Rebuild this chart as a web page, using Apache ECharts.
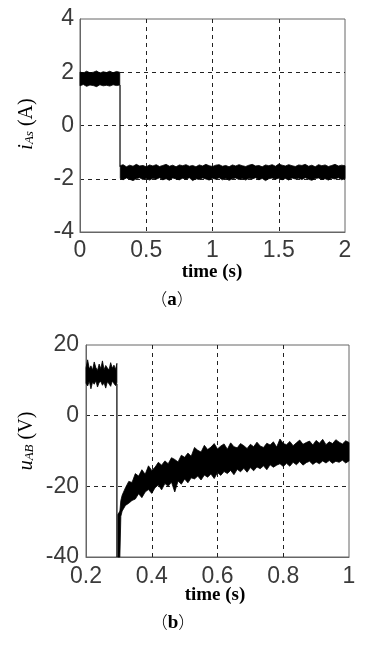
<!DOCTYPE html>
<html><head><meta charset="utf-8">
<script src="https://cdn.jsdelivr.net/npm/echarts@6/dist/echarts.min.js"></script>
<style>html,body{margin:0;padding:0;background:#fff}#c{width:365px;height:645px}</style>
</head><body><div id="c"></div>
<script>
// Panel (a): i_As (A) vs time (s)
var xTicksA = [0, 0.5, 1, 1.5, 2];
var yTicksA = [-4, -2, 0, 2, 4];
var tA1 = [0,0.025,0.05,0.075,0.1,0.125,0.15,0.175,0.2,0.225,0.25,0.275,0.3];
var hiA1 = [2.01,1.97,2.04,1.98,2.0,2.05,1.97,2.02,1.99,2.04,1.98,2.03,2.0];
var loA1 = [1.49,1.54,1.47,1.52,1.5,1.46,1.53,1.49,1.51,1.48,1.53,1.5,1.52];
var tA2 = [0.304,0.325,0.35,0.375,0.4,0.425,0.45,0.475,0.5,0.525,0.55,0.575,0.6,0.625,0.65,0.675,0.7,0.725,0.75,0.775,0.8,0.825,0.85,0.875,0.9,0.925,0.95,0.975,1.0,1.025,1.05,1.075,1.1,1.125,1.15,1.175,1.2,1.225,1.25,1.275,1.3,1.325,1.35,1.375,1.4,1.425,1.45,1.475,1.5,1.525,1.55,1.575,1.6,1.625,1.65,1.675,1.7,1.725,1.75,1.775,1.8,1.825,1.85,1.875,1.9,1.925,1.95,1.975,2.0];
var hiA2 = [-1.51,-1.47,-1.55,-1.49,-1.53,-1.46,-1.52,-1.50,-1.55,-1.48,
  -1.52,-1.47,-1.54,-1.50,-1.46,-1.53,-1.49,-1.55,-1.48,-1.51,
  -1.47,-1.53,-1.50,-1.55,-1.48,-1.52,-1.46,-1.51,-1.54,-1.49,
  -1.47,-1.53,-1.50,-1.55,-1.48,-1.52,-1.47,-1.51,-1.54,-1.49,
  -1.46,-1.52,-1.50,-1.55,-1.48,-1.51,-1.47,-1.53,-1.45,-1.49,
  -1.52,-1.47,-1.51,-1.54,-1.48,-1.50,-1.46,-1.53,-1.49,-1.55,
  -1.47,-1.51,-1.48,-1.54,-1.50,-1.46,-1.52,-1.49,-1.51];
var loA2 = [-1.99,-2.04,-1.97,-2.02,-2.07,-2.00,-1.96,-2.03,-1.99,-2.05,
  -1.98,-2.02,-1.96,-2.04,-2.00,-2.06,-1.97,-2.01,-2.04,-1.98,
  -2.02,-1.96,-2.07,-2.00,-2.03,-1.97,-2.01,-2.05,-1.98,-2.02,
  -1.96,-2.04,-1.99,-2.06,-2.00,-1.97,-2.03,-1.99,-2.05,-1.98,
  -2.01,-1.96,-2.04,-1.99,-2.07,-2.00,-1.97,-2.02,-1.98,-2.04,
  -1.99,-2.05,-1.97,-2.01,-1.98,-2.03,-1.96,-2.02,-2.06,-1.99,
  -1.97,-2.03,-2.00,-2.05,-1.98,-2.01,-1.96,-2.04,-2.00];
var stepA = [[0.302, 1.52], [0.302, -1.55]];

// Panel (b): u_AB (V) vs time (s)
var xTicksB = [0.2, 0.4, 0.6, 0.8, 1];
var yTicksB = [-40, -20, 0, 20];
var tB1 = [0.2,0.205,0.21,0.215,0.22,0.225,0.23,0.235,0.24,0.245,0.25,0.255,0.26,0.265,0.27,0.275,0.28,0.285,0.29,0.294];
var hiB1 = [13.5,15.8,13.2,14.1,12.9,15.2,13.6,12.8,14.6,13.3,15.5,13.0,14.2,13.5,12.9,15.0,13.4,14.3,13.1,14.8];
var loB1 = [9.2,8.4,9.8,7.6,9.5,8.9,9.9,8.1,9.4,9.7,8.6,9.3,7.8,9.6,9.0,8.3,9.8,9.1,8.5,9.4];
var tB2 = [0.297,0.303,0.306,0.31,0.32,0.33,0.34,0.35,0.36,0.37,0.38,0.39,0.40,0.41,0.42,0.43,0.44,0.45,0.46,0.47,0.48,0.49,0.50,0.51,0.52,0.53,0.54,0.55,0.56,0.57,0.58,0.59,0.60,0.61,0.62,0.63,0.64,0.65,0.66,0.67,0.68,0.69,0.70,0.71,0.72,0.73,0.74,0.75,0.76,0.77,0.78,0.79,0.80,0.81,0.82,0.83,0.84,0.85,0.86,0.87,0.88,0.89,0.90,0.91,0.92,0.93,0.94,0.95,0.96,0.97,0.98,0.99,1.00];
var hiB2 = [-28,-27,-24,
  -22.5,-20.4,-18.6,-18.9,-16.4,-17.1,-15.3,-16.6,-14.2,-15.5,
  -14.6,-13.2,-14.0,-12.8,-13.6,-11.9,-12.4,-13.1,-11.2,-11.8,
  -10.6,-11.5,-9.0,-9.8,-10.3,-8.4,-9.6,-8.9,-7.9,-9.4,
  -8.6,-8.0,-9.5,-7.7,-8.8,-9.1,-7.9,-8.5,-9.3,-8.1,
  -8.8,-7.5,-8.6,-9.0,-7.8,-8.3,-7.4,-8.9,-6.6,-7.9,
  -8.2,-7.3,-8.5,-7.7,-6.9,-8.1,-7.6,-7.2,-8.3,-7.0,
  -7.8,-6.7,-8.2,-7.4,-7.9,-6.8,-7.5,-8.0,-7.1,-7.6];
var loB2 = [-40,-40,-28.5,
  -27.0,-25.4,-24.8,-24.0,-23.6,-22.1,-23.2,-21.6,-20.9,-22.0,
  -20.4,-19.6,-21.0,-19.2,-20.0,-18.8,-21.6,-18.5,-19.4,-17.9,
  -19.0,-17.6,-17.9,-17.1,-18.2,-16.8,-17.4,-16.5,-17.8,-16.1,
  -16.9,-15.8,-16.4,-15.5,-16.7,-15.2,-15.9,-14.9,-16.0,-14.7,
  -15.6,-14.5,-15.0,-14.2,-15.3,-13.9,-14.6,-14.0,-13.6,-14.4,
  -13.5,-14.3,-13.2,-13.9,-13.0,-14.0,-13.3,-12.9,-13.8,-13.1,
  -13.6,-12.8,-13.4,-12.7,-13.5,-12.9,-13.2,-12.6,-13.4,-12.8];
var stepB = [[0.294, 9.0], [0.294, -40]];

function band(t, hi, lo) {
  return function (params, api) {
    if (params.dataIndex !== 0) return null;
    var n = Math.min(t.length, hi.length, lo.length);
    var pts = [];
    for (var i = 0; i < n; i++) pts.push(api.coord([t[i], hi[i]]));
    for (var j = n - 1; j >= 0; j--) pts.push(api.coord([t[j], lo[j]]));
    return { type: 'polygon', shape: { points: pts },
      style: { fill: '#000', stroke: '#000', lineWidth: 0.8 } };
  };
}

var tickFont = { fontFamily: 'Liberation Sans, Arial, sans-serif', fontSize: 23, color: '#3a3a3a' };
var splitL = { show: true, showMinLine: false, showMaxLine: false,
  lineStyle: { color: '#222', width: 1, type: [4, 4] } };

function ax(idx, ticks, margin) {
  return { gridIndex: idx, type: 'value', min: ticks[0], max: ticks[ticks.length - 1],
    interval: ticks[1] - ticks[0],
    axisLine: { show: true, onZero: false, lineStyle: { color: '#666' } }, axisTick: { show: false },
    axisLabel: Object.assign({ margin: margin }, tickFont), splitLine: splitL };
}

var serif = 'Liberation Serif';
var richY = {
  v: { fontFamily: serif, fontStyle: 'italic', fontSize: 20, color: '#000' },
  s: { fontFamily: serif, fontStyle: 'italic', fontSize: 13, color: '#000', padding: [6, 0, 0, 0] },
  p: { fontFamily: serif, fontSize: 20, color: '#000' }
};
var richCap = {
  q: { fontFamily: 'Noto Sans CJK SC', fontSize: 17, fontWeight: 300, color: '#000' },
  l: { fontFamily: serif, fontSize: 19, fontWeight: 'bold', color: '#000' }
};
var chart = echarts.init(document.getElementById('c'));
chart.setOption({
  animation: false,
  backgroundColor: '#fff',
  grid: [
    { left: 80, top: 19, width: 265, height: 213, show: true, borderColor: '#666', borderWidth: 1, backgroundColor: '#fff' },
    { left: 86, top: 345, width: 263, height: 212, show: true, borderColor: '#666', borderWidth: 1, backgroundColor: '#fff' }
  ],
  xAxis: [ax(0, xTicksA, 7), ax(1, xTicksB, 8)],
  yAxis: [ax(0, yTicksA, 6), ax(1, yTicksB, 7)],
  series: [
    { type: 'custom', xAxisIndex: 0, yAxisIndex: 0, data: [[tA1[0], hiA1[0]]], renderItem: band(tA1, hiA1, loA1), silent: true },
    { type: 'custom', xAxisIndex: 0, yAxisIndex: 0, data: [[tA2[0], hiA2[0]]], renderItem: band(tA2, hiA2, loA2), silent: true },
    { type: 'line', xAxisIndex: 0, yAxisIndex: 0, data: stepA, symbol: 'none', lineStyle: { color: '#000', width: 1.2 } },
    { type: 'custom', xAxisIndex: 1, yAxisIndex: 1, data: [[tB1[0], hiB1[0]]], renderItem: band(tB1, hiB1, loB1), silent: true },
    { type: 'custom', xAxisIndex: 1, yAxisIndex: 1, data: [[tB2[0], hiB2[0]]], renderItem: band(tB2, hiB2, loB2), silent: true },
    { type: 'line', xAxisIndex: 1, yAxisIndex: 1, data: stepB, symbol: 'none', lineStyle: { color: '#000', width: 1.2 } }
  ],
  graphic: [
    { type: 'text', x: 212, y: 272, style: { text: 'time (s)', align: 'center', verticalAlign: 'middle', font: 'bold 19px "Liberation Serif"', fill: '#000' } },
    { type: 'text', x: 172, y: 300, style: { text: '{q|（}{l|a}{q|）}', align: 'center', verticalAlign: 'middle', rich: richCap } },
    { type: 'text', x: 215, y: 595, style: { text: 'time (s)', align: 'center', verticalAlign: 'middle', font: 'bold 19px "Liberation Serif"', fill: '#000' } },
    { type: 'text', x: 173, y: 623, style: { text: '{q|（}{l|b}{q|）}', align: 'center', verticalAlign: 'middle', rich: richCap } },
    { type: 'text', x: 27, y: 124, rotation: Math.PI / 2,
      style: { text: '{v|i}{s|As}{p| (A)}', align: 'center', verticalAlign: 'middle', rich: richY } },
    { type: 'text', x: 27, y: 441, rotation: Math.PI / 2,
      style: { text: '{v|u}{s|AB}{p| (V)}', align: 'center', verticalAlign: 'middle', rich: richY } }
  ]
});
</script></body></html>
